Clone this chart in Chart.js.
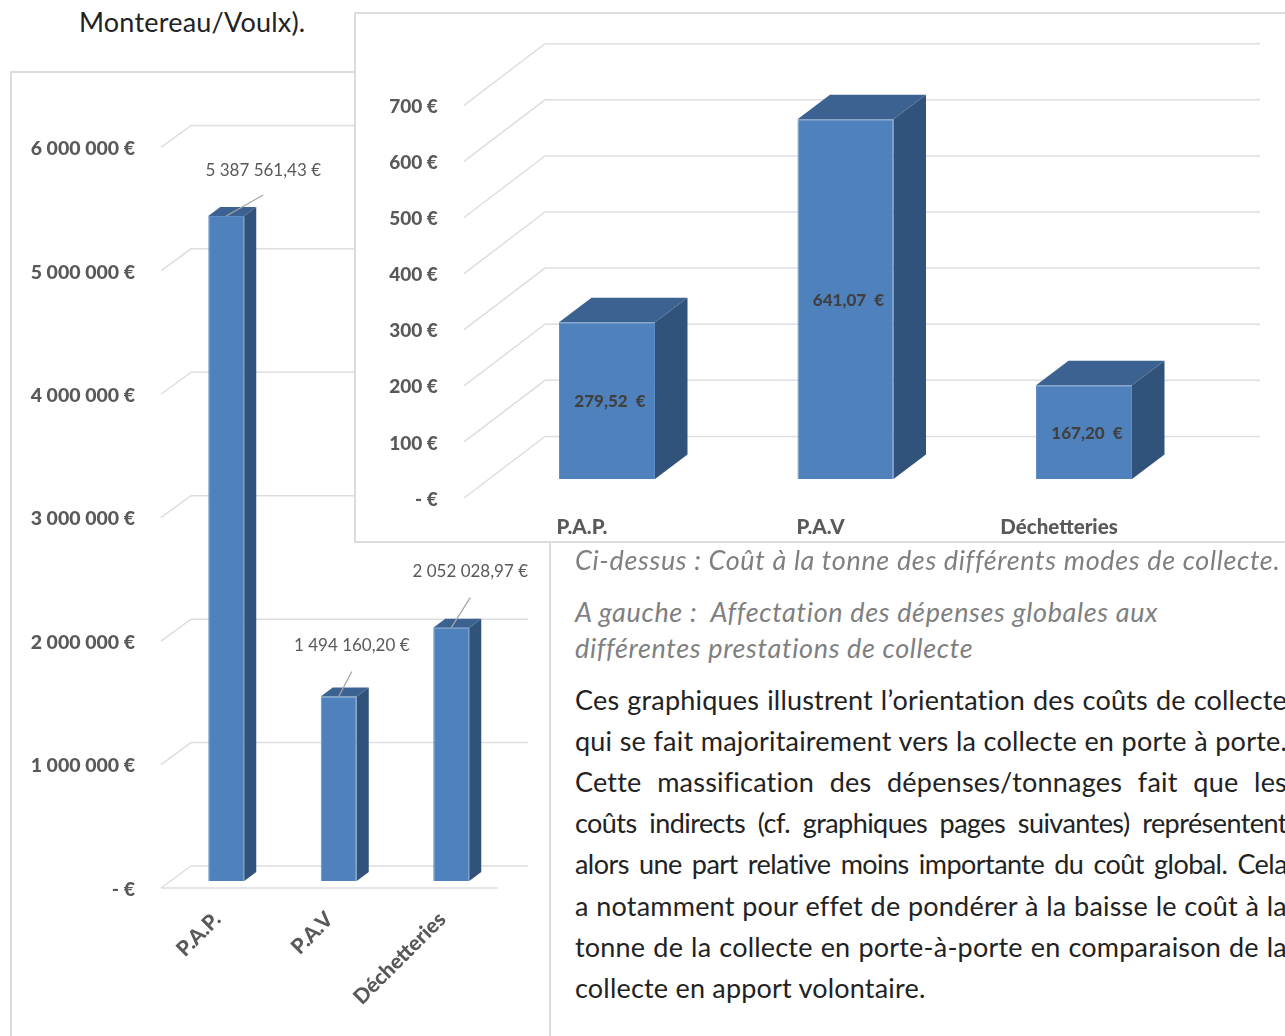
<!DOCTYPE html>
<html lang="fr">
<head>
<meta charset="utf-8">
<title>Coûts de collecte</title>
<script src="https://cdn.jsdelivr.net/npm/chart.js@4"></script>
<style>
    html, body { margin: 0; padding: 0; background: #fff; }
    body { position: relative; width: 1285px; height: 1036px; overflow: hidden; font-family: Lato, sans-serif; }
    .frame { position: absolute; background: #fff; border: 2px solid #dcdcdc; box-sizing: border-box; }
    #frameLeft { left: 10px; top: 71px; width: 541px; height: 1000px; }
    #frameRight { left: 354px; top: 12px; width: 960px; height: 531px; }
    canvas { position: absolute; display: block; }
    #chartLeft { left: 11px; top: 71px; }
    #chartRight { left: 355px; top: 13px; }
    .line { position: absolute; left: 575px; width: 712px; white-space: pre; font-size: 27px; letter-spacing: 0.2px; line-height: 34px; color: #222; }
    .just { text-align: justify; text-align-last: justify; white-space: normal; }
    .tight { letter-spacing: -0.55px; word-spacing: -1px; }
    .note { color: #7f7f7f; font-style: italic; letter-spacing: 0.65px; }
</style>
</head>
<body>
    <div class="line" style="left:79px; top:5px; width:300px">Montereau/Voulx).</div>

    <div class="frame" id="frameLeft"></div>
    <canvas id="chartLeft" width="539" height="965"></canvas>

    <div class="frame" id="frameRight"></div>
    <canvas id="chartRight" width="930" height="529"></canvas>

    <div class="line note" style="top:543px">Ci-dessus : Coût à la tonne des différents modes de collecte.</div>
    <div class="line note" style="top:595px">A gauche :  Affectation des dépenses globales aux</div>
    <div class="line note" style="top:631px">différentes prestations de collecte</div>

    <div class="line just" style="top:683px">Ces graphiques illustrent l’orientation des coûts de collecte</div>
    <div class="line just" style="top:724px">qui se fait majoritairement vers la collecte en porte à porte.</div>
    <div class="line just" style="top:765px">Cette massification des dépenses/tonnages fait que les</div>
    <div class="line just tight" style="top:806px">coûts indirects (cf. graphiques pages suivantes) représentent</div>
    <div class="line just tight" style="top:847px">alors une part relative moins importante du coût global. Cela</div>
    <div class="line just" style="top:889px">a notamment pour effet de pondérer à la baisse le coût à la</div>
    <div class="line just" style="top:930px">tonne de la collecte en porte-à-porte en comparaison de la</div>
    <div class="line" style="top:971px">collecte en apport volontaire.</div>

<script>
const categories = ['P.A.P.', 'P.A.V', 'Déchetteries'];

// depenses globales (graphique de gauche)
const totalValues = [5387561.43, 1494160.20, 2052028.97];
const totalLabels = ['5 387 561,43 €', '1 494 160,20 €', '2 052 028,97 €'];
const totalTicks = ['- €', '1 000 000 €', '2 000 000 €', '3 000 000 €', '4 000 000 €', '5 000 000 €', '6 000 000 €'];

// cout a la tonne (graphique de droite)
const tonneValues = [279.52, 641.07, 167.20];
const tonneLabels = ['279,52  €', '641,07  €', '167,20  €'];
const tonneTicks = ['- €', '100 €', '200 €', '300 €', '400 €', '500 €', '600 €', '700 €'];

const greyText = '#595959';
const gridColor = '#dedede';

// faces laterales et haut des barres + grille en perspective
const box3d = {
    id: 'box3d',
    beforeDatasetsDraw(chart, args, opts) {
        const ctx = chart.ctx;
        const y = chart.scales.y;
        ctx.save();
        ctx.strokeStyle = gridColor;
        ctx.lineWidth = opts.gridWidth;
        y.ticks.forEach((tick) => {
            const py = y.getPixelForValue(tick.value) + opts.frontDrop;
            ctx.beginPath();
            ctx.moveTo(opts.gridLeft, py);
            ctx.lineTo(opts.gridLeft + opts.gridDx, py - opts.gridDy);
            ctx.lineTo(opts.gridRight, py - opts.gridDy);
            ctx.stroke();
        });
        if (opts.floorRight) {
            const py = y.getPixelForValue(0) + opts.frontDrop;
            ctx.beginPath();
            ctx.moveTo(opts.gridLeft, py);
            ctx.lineTo(opts.floorRight, py);
            ctx.stroke();
        }
        ctx.restore();
    },
    afterDatasetsDraw(chart, args, opts) {
        const ctx = chart.ctx;
        ctx.save();
        chart.getDatasetMeta(0).data.forEach((bar) => {
            const left = bar.x - bar.width / 2;
            const right = bar.x + bar.width / 2;
            ctx.fillStyle = '#31527A';
            ctx.beginPath();
            ctx.moveTo(right, bar.y);
            ctx.lineTo(right + opts.dx, bar.y - opts.dy);
            ctx.lineTo(right + opts.dx, bar.base - opts.dy);
            ctx.lineTo(right, bar.base);
            ctx.closePath();
            ctx.fill();
            ctx.fillStyle = '#3B6290';
            ctx.beginPath();
            ctx.moveTo(left, bar.y);
            ctx.lineTo(left + opts.dx, bar.y - opts.dy);
            ctx.lineTo(right + opts.dx, bar.y - opts.dy);
            ctx.lineTo(right, bar.y);
            ctx.closePath();
            ctx.fill();
        });
        ctx.restore();
    }
};

// etiquettes de valeurs
const valueLabels = {
    id: 'valueLabels',
    afterDraw(chart, args, opts) {
        const ctx = chart.ctx;
        ctx.save();
        ctx.font = opts.font;
        ctx.fillStyle = opts.color;
        ctx.textAlign = 'center';
        ctx.textBaseline = 'middle';
        chart.getDatasetMeta(0).data.forEach((bar, i) => {
            if (opts.leaders) {
                const l = opts.leaders[i];
                ctx.strokeStyle = '#a6a6a6';
                ctx.lineWidth = 1.3;
                ctx.beginPath();
                ctx.moveTo(bar.x, bar.y);
                ctx.lineTo(bar.x + l.dx, bar.y + l.lineDy);
                ctx.stroke();
                ctx.fillText(opts.texts[i], bar.x + l.dx, bar.y + l.textDy);
            } else {
                ctx.fillText(opts.texts[i], bar.x + 3, (bar.y + bar.base) / 2 + 1);
            }
        });
        ctx.restore();
    }
};

new Chart(document.getElementById('chartLeft'), {
    type: 'bar',
    data: {
        labels: categories,
        datasets: [{
            data: totalValues,
            backgroundColor: '#4F81BD',
            borderColor: '#5F8DC7',
            borderWidth: 1,
            categoryPercentage: 1,
            barPercentage: 0.32
        }]
    },
    options: {
        responsive: false,
        animation: false,
        layout: { padding: { top: 69.4, right: 42.5, left: 0, bottom: 0 } },
        plugins: {
            legend: { display: false },
            tooltip: { enabled: false },
            box3d: { dx: 12, dy: 9, gridLeft: 150, gridDx: 30, gridDy: 22, gridRight: 517, floorRight: 487, frontDrop: 7, gridWidth: 1.5 },
            valueLabels: {
                texts: totalLabels,
                font: '17px Lato',
                color: '#595959',
                leaders: [
                    { dx: 37, lineDy: -21, textDy: -45 },
                    { dx: 13, lineDy: -25, textDy: -51 },
                    { dx: 19, lineDy: -30, textDy: -56 }
                ]
            }
        },
        scales: {
            y: {
                min: 0,
                max: 6000000,
                afterFit: (scale) => { scale.width = 159; },
                border: { display: false },
                grid: { display: false, drawTicks: false },
                ticks: {
                    stepSize: 1000000,
                    padding: 35,
                    labelOffset: 8.5,
                    color: greyText,
                    font: { family: 'Lato', size: 19.5, weight: 900 },
                    callback: (value, index) => totalTicks[index]
                }
            },
            x: {
                afterFit: (scale) => { scale.height = 155; },
                border: { display: false },
                grid: { display: false, drawTicks: false },
                ticks: {
                    minRotation: 45,
                    maxRotation: 45,
                    padding: 26,
                    labelOffset: -9,
                    color: greyText,
                    font: { family: 'Lato', size: 21, weight: 900 }
                }
            }
        }
    },
    plugins: [box3d, valueLabels]
});

new Chart(document.getElementById('chartRight'), {
    type: 'bar',
    data: {
        labels: categories,
        datasets: [{
            data: tonneValues,
            backgroundColor: '#4F81BD',
            borderColor: '#5F8DC7',
            borderWidth: 1,
            categoryPercentage: 1,
            barPercentage: 0.4025
        }]
    },
    options: {
        responsive: false,
        animation: false,
        layout: { padding: { top: 73.3, right: 81.75, left: 0, bottom: 0 } },
        plugins: {
            legend: { display: false },
            tooltip: { enabled: false },
            box3d: { dx: 32.5, dy: 24.5, gridLeft: 109, gridDx: 81, gridDy: 61.6, gridRight: 905, frontDrop: 19, gridWidth: 1.5 },
            valueLabels: {
                texts: tonneLabels,
                font: '900 17px Lato',
                color: '#404040'
            }
        },
        scales: {
            y: {
                min: 0,
                max: 700,
                afterFit: (scale) => { scale.width = 132.75; },
                border: { display: false },
                grid: { display: false, drawTicks: false },
                ticks: {
                    stepSize: 100,
                    padding: 50,
                    labelOffset: 20.5,
                    color: greyText,
                    font: { family: 'Lato', size: 19, weight: 900 },
                    callback: (value, index) => tonneTicks[index]
                }
            },
            x: {
                afterFit: (scale) => { scale.height = 63; },
                border: { display: false },
                grid: { display: false, drawTicks: false },
                ticks: {
                    maxRotation: 0,
                    padding: 36,
                    labelOffset: -25,
                    color: greyText,
                    font: { family: 'Lato', size: 20.5, weight: 900 }
                }
            }
        }
    },
    plugins: [box3d, valueLabels]
});
</script>
</body>
</html>
